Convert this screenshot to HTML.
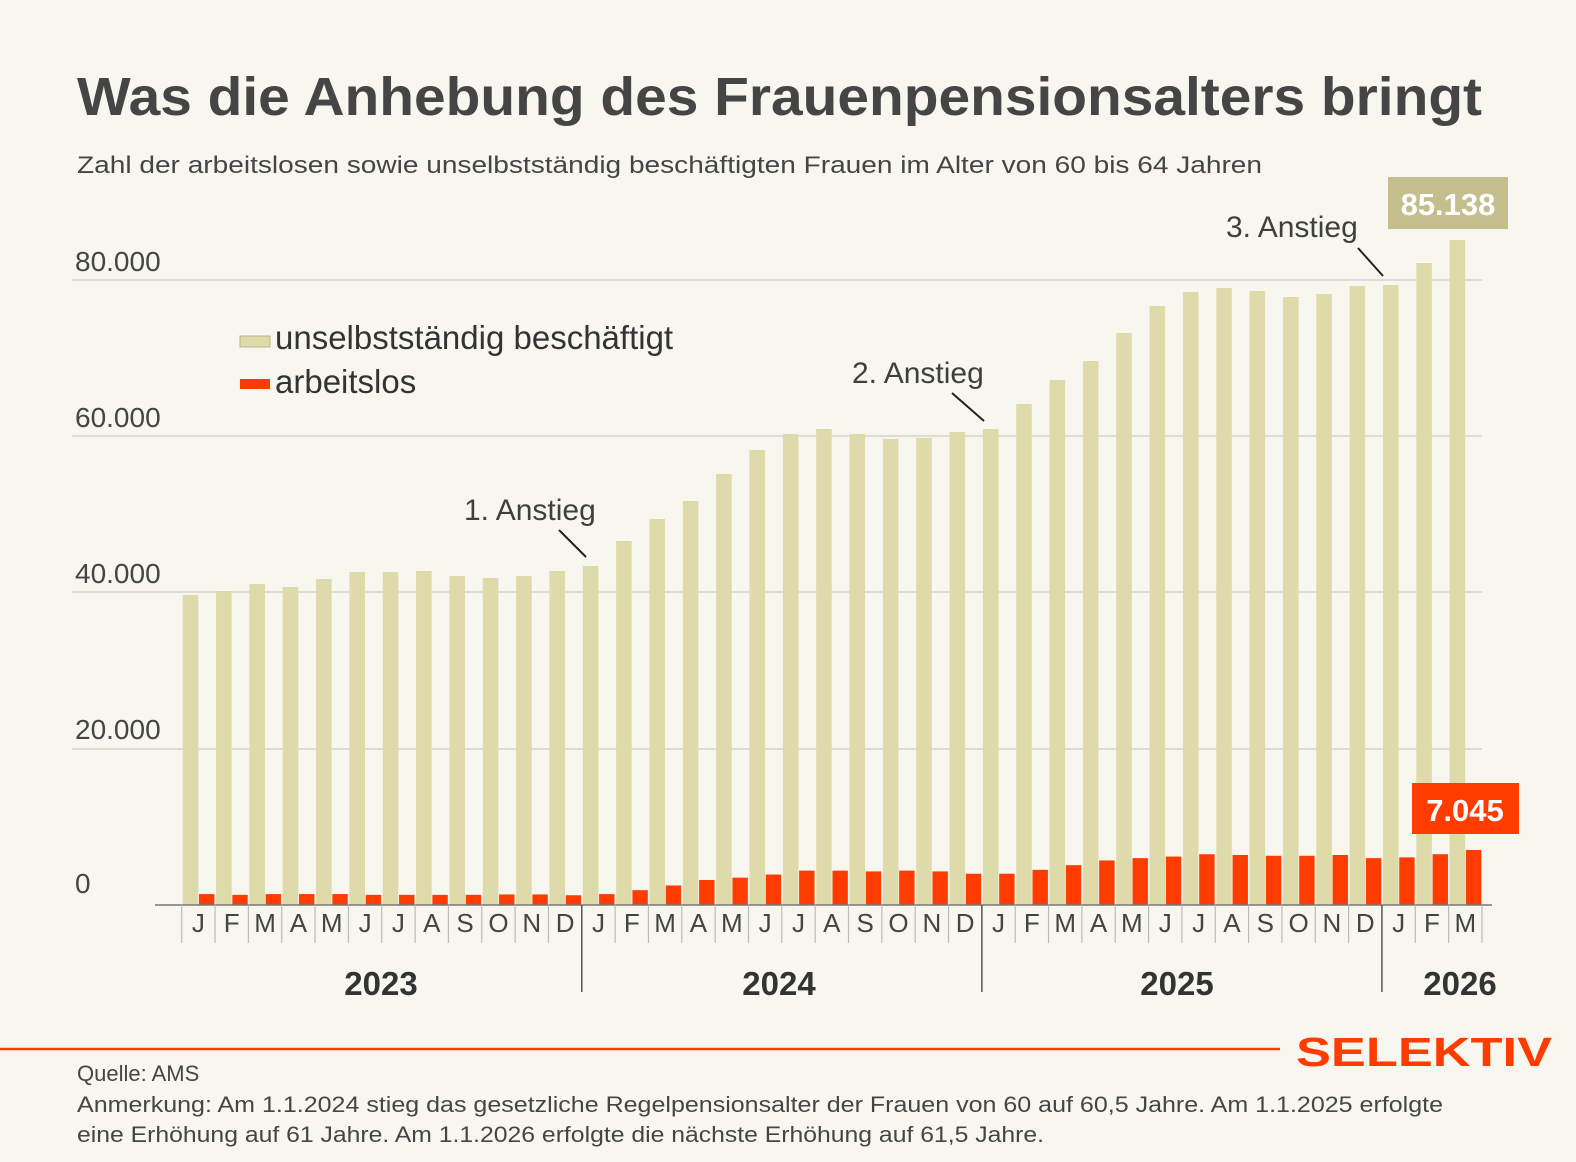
<!DOCTYPE html>
<html><head><meta charset="utf-8"><style>
html,body{margin:0;padding:0;background:#f8f7ef;}
svg{display:block;font-family:"Liberation Sans",sans-serif;}
</style></head><body>
<svg id="c" width="1576" height="1162" viewBox="0 0 1576 1162" xmlns="http://www.w3.org/2000/svg">
<rect width="1576" height="1162" fill="#f8f7ef"/>
<text x="77" y="115" font-size="54" font-weight="bold" fill="#454545" textLength="1405" lengthAdjust="spacingAndGlyphs">Was die Anhebung des Frauenpensionsalters bringt</text>
<text x="77" y="173" font-size="24" fill="#454545" textLength="1185" lengthAdjust="spacingAndGlyphs">Zahl der arbeitslosen sowie unselbstständig beschäftigten Frauen im Alter von 60 bis 64 Jahren</text>
<g stroke="#d6d4cc" stroke-width="1.5">
<line x1="72" y1="280" x2="1482" y2="280"/>
<line x1="72" y1="436" x2="1482" y2="436"/>
<line x1="72" y1="592" x2="1482" y2="592"/>
<line x1="72" y1="749" x2="1482" y2="749"/>
</g>
<g font-size="28" fill="#454545">
<text x="75" y="271">80.000</text>
<text x="75" y="427">60.000</text>
<text x="75" y="583">40.000</text>
<text x="75" y="739">20.000</text>
<text x="75" y="893">0</text>
</g>
<g id="bars"></g>
<line x1="155" y1="905" x2="1492" y2="905" stroke="#777" stroke-width="1.5"/>
<g id="ticks"></g>
<g font-size="33" font-weight="bold" fill="#333" text-anchor="middle">
<text x="381" y="995">2023</text>
<text x="779" y="995">2024</text>
<text x="1177" y="995">2025</text>
<text x="1460" y="995">2026</text>
</g>
<rect x="240" y="336" width="30" height="11" fill="#dfdaa9" stroke="#b9b48a" stroke-width="1"/>
<text x="275" y="349" font-size="33" fill="#333">unselbstständig beschäftigt</text>
<rect x="240" y="379" width="30" height="10" fill="#ff3c00"/>
<text x="275" y="393" font-size="33" fill="#333">arbeitslos</text>
<g font-size="30" fill="#3f3f3f">
<text x="464" y="520">1. Anstieg</text>
<text x="852" y="383">2. Anstieg</text>
<text x="1226" y="237">3. Anstieg</text>
</g>
<g stroke="#222" stroke-width="2">
<line x1="559" y1="530" x2="586" y2="557"/>
<line x1="952" y1="393" x2="984" y2="421"/>
<line x1="1358" y1="248" x2="1383" y2="276"/>
</g>
<rect x="1388" y="177" width="120" height="52" fill="#c3be8c"/>
<text x="1448" y="215" font-size="31" font-weight="bold" fill="#fff" text-anchor="middle">85.138</text>
<rect x="1412" y="783" width="107" height="51" fill="#ff3c00"/>
<text x="1465" y="821" font-size="31" font-weight="bold" fill="#fff" text-anchor="middle">7.045</text>
<line x1="0" y1="1049" x2="1280" y2="1049" stroke="#ff3c00" stroke-width="2.5"/>
<text x="1296" y="1066" font-size="41" font-weight="bold" fill="#ff3c00" textLength="256" lengthAdjust="spacingAndGlyphs">SELEKTIV</text>
<g font-size="22" fill="#454545">
<text x="77" y="1081">Quelle: AMS</text>
<text x="77" y="1112" textLength="1366" lengthAdjust="spacingAndGlyphs">Anmerkung: Am 1.1.2024 stieg das gesetzliche Regelpensionsalter der Frauen von 60 auf 60,5 Jahre. Am 1.1.2025 erfolgte</text>
<text x="77" y="1142" textLength="967" lengthAdjust="spacingAndGlyphs">eine Erhöhung auf 61 Jahre. Am 1.1.2026 erfolgte die nächste Erhöhung auf 61,5 Jahre.</text>
</g>
</svg>
<script>
var NS="http://www.w3.org/2000/svg";
var tops=[595,591,584,587,579,572,572,571,576,578,576,571,566,541,519,501,474,450,434,429,434,439,438,432,429,404,380,361,333,306,292,288,291,297,294,286,285,263,240];
var red=[1400,1300,1400,1400,1400,1300,1300,1300,1300,1350,1350,1250,1400,1900,2500,3200,3500,3900,4400,4400,4300,4400,4300,4000,4000,4500,5100,5700,6000,6200,6500,6400,6300,6300,6400,6000,6100,6500,7045];
var m="JFMAMJJASOND";
var bars=document.getElementById("bars"),ticks=document.getElementById("ticks");
function el(t,a,p){var e=document.createElementNS(NS,t);for(var k in a)e.setAttribute(k,a[k]);p.appendChild(e);return e;}
var w=33.34,x0=181.7;
for(var i=0;i<39;i++){
 var x=x0+w*i;
 el("rect",{x:x+1,y:tops[i],width:15.6,height:905-tops[i],fill:"#dfdaa9"},bars);
 var h=red[i]*0.0078125;
 el("rect",{x:x+17.3,y:905-h,width:15.4,height:h,fill:"#ff3c00"},bars);
 var yr=(i%12==0&&i>0);
 el("line",{x1:x,y1:905,x2:x,y2:yr?992:943,stroke:yr?"#555":"#bbb","stroke-width":yr?1.5:1.2},ticks);
 var t=el("text",{x:x+w/2,y:932,"font-size":26,fill:"#444","text-anchor":"middle"},ticks);
 t.textContent=m[i%12];
}
el("line",{x1:x0+w*39,y1:905,x2:x0+w*39,y2:943,stroke:"#bbb","stroke-width":1.2},ticks);
</script>
</body></html>
